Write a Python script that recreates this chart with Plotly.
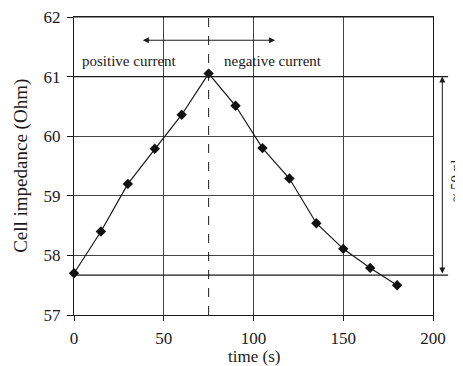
import plotly.graph_objects as go

time_s = [0, 15, 30, 45, 60, 75, 90, 105, 120, 135, 150, 165, 180]
impedance = [57.70, 58.40, 59.20, 59.79, 60.36, 61.05, 60.51, 59.80, 59.29, 58.54, 58.11, 57.79, 57.50]
x_ticks = [0, 50, 100, 150, 200]
y_ticks = [57, 58, 59, 60, 61, 62]
switch_time = 75
level_high = 61.0
level_low = 57.67

FONT = "Liberation Serif"
INK = "#1a1a1a"
GRID = "#444"

fig = go.Figure()
fig.add_trace(go.Scatter(
    x=time_s, y=impedance, mode="lines+markers",
    line=dict(color=INK, width=1.2),
    marker=dict(symbol="diamond", size=8, color="#111"),
    showlegend=False, cliponaxis=False,
))

shapes = [
    dict(type="line", xref="x", yref="y", x0=switch_time, x1=switch_time, y0=57, y1=62,
         line=dict(color=INK, width=1, dash="dash")),
    dict(type="line", xref="paper", yref="y", x0=0, x1=1.042, y0=level_high, y1=level_high,
         line=dict(color=INK, width=1.3)),
    dict(type="line", xref="paper", yref="y", x0=0, x1=1.042, y0=level_low, y1=level_low,
         line=dict(color=INK, width=1.3)),
    # top frame edge
    dict(type="line", xref="paper", yref="paper", x0=0, x1=1, y0=1, y1=1,
         line=dict(color=INK, width=1)),
]

annotations = [
    # horizontal double arrow
    dict(x=112, y=61.61, ax=37.5, ay=61.61, xref="x", yref="y", axref="x", ayref="y",
         showarrow=True, arrowhead=2, arrowside="end+start", arrowsize=1.2, arrowwidth=1,
         arrowcolor=INK, text=""),
    # vertical double arrow
    dict(x=1.026, y=level_high, ax=0, ay=level_low, xref="paper", yref="y",
         axref="pixel", ayref="y",
         showarrow=True, arrowhead=2, arrowside="end+start", arrowsize=1.2, arrowwidth=1,
         arrowcolor=INK, text=""),
    dict(x=31, y=61.27, xref="x", yref="y", text="positive current", showarrow=False,
         font=dict(family=FONT, size=15, color=INK)),
    dict(x=111, y=61.27, xref="x", yref="y", text="negative current", showarrow=False,
         font=dict(family=FONT, size=15, color=INK)),
    dict(x=1.064, y=59.25, xref="paper", yref="y", text="≈ 50 nl", showarrow=False,
         textangle=-90, xanchor="center", font=dict(family=FONT, size=15, color=INK)),
    # axis titles
    dict(x=-0.148, y=0.5, xref="paper", yref="paper", text="Cell impedance (Ohm)",
         showarrow=False, textangle=-90, xanchor="center", yanchor="middle",
         font=dict(family=FONT, size=19, color=INK)),
    dict(x=0.5, y=-0.138, xref="paper", yref="paper", text="time (s)",
         showarrow=False, xanchor="center", yanchor="middle",
         font=dict(family=FONT, size=17, color=INK)),
]

fig.update_layout(
    width=455, height=358,
    margin=dict(l=66, r=30, t=9, b=51),
    paper_bgcolor="white", plot_bgcolor="white",
    font=dict(family=FONT, size=17, color=INK),
    shapes=shapes, annotations=annotations,
    xaxis=dict(
        range=[0, 200], tickvals=x_ticks, ticks="outside", ticklen=5, tickcolor=INK,
        showline=True, linecolor=INK, mirror=True, showgrid=True, gridcolor=GRID, gridwidth=1,
        zeroline=False, ticklabelstandoff=3, automargin=False, ticklabeloverflow="allow",
    ),
    yaxis=dict(
        range=[57, 62], tickvals=y_ticks, ticks="outside", ticklen=6, tickcolor=INK,
        showline=True, linecolor=INK, mirror=True, showgrid=True, gridcolor=GRID, gridwidth=1,
        zeroline=False, ticklabelstandoff=3, automargin=False, ticklabeloverflow="allow",
    ),
)

fig.write_html("out.html")
